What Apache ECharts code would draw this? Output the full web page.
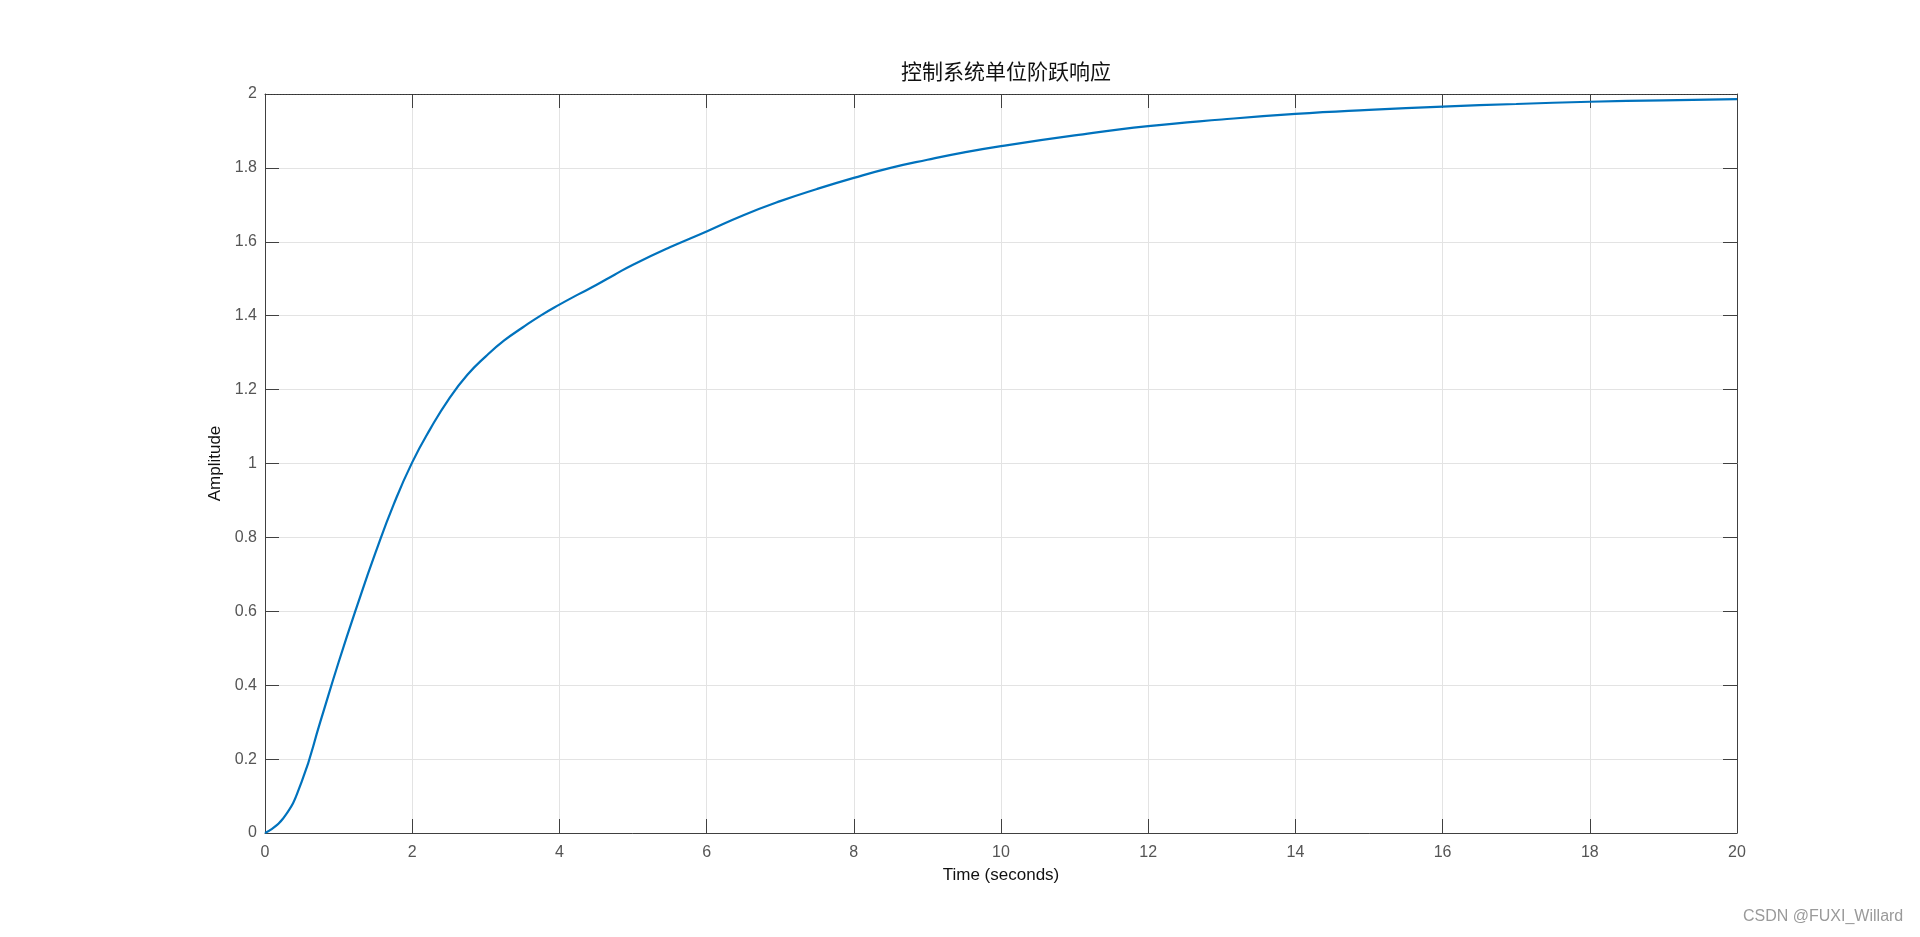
<!DOCTYPE html>
<html>
<head>
<meta charset="utf-8">
<title>控制系统单位阶跃响应</title>
<script src="https://cdn.jsdelivr.net/npm/echarts@6/dist/echarts.min.js"></script>
<style>
html,body{margin:0;padding:0;background:#fff;}
#chart{width:1920px;height:937px;}
</style>
</head>
<body>
<div id="chart"></div>
<script>
// Data
var titleText = '控制系统单位阶跃响应';
var xAxisName = 'Time (seconds)';
var yAxisName = 'Amplitude';
var watermark = 'CSDN @FUXI_Willard';
var timeValues = [0, 0.25, 0.5, 0.75, 1.0, 1.25, 1.5, 1.75, 2.0, 2.25, 2.5, 2.75, 3.0, 3.25, 3.5, 3.75, 4.0, 4.25, 4.5, 4.75, 5.0,
                  5.5, 6.0, 6.5, 7.0, 7.5, 8.0, 8.5, 9.0, 9.5, 10, 11, 12, 13, 14, 15, 16, 17, 18, 19, 20];
var amplitudeValues = [0, 0.04, 0.14, 0.3, 0.462, 0.614, 0.758, 0.89, 1.003, 1.095, 1.175, 1.24, 1.29, 1.333, 1.368, 1.401, 1.43, 1.457, 1.483, 1.511, 1.538,
                       1.585, 1.628, 1.672, 1.71, 1.743, 1.773, 1.8, 1.822, 1.842, 1.859, 1.888, 1.913, 1.931, 1.946, 1.957, 1.966, 1.973, 1.979, 1.983, 1.986];
var steadyState = 2;
var xMin = 0, xMax = 20, xStep = 2;
var yMin = 0, yMax = 2, yStep = 0.2;

var seriesData = timeValues.map(function (t, i) { return [t, amplitudeValues[i]]; });

var axisColor = '#404040';
var gridColor = '#e3e3e3';
var font = '"Liberation Sans", Arial, sans-serif';

var chart = echarts.init(document.getElementById('chart'));
var option = {
  backgroundColor: '#ffffff',
  animation: false,
  title: {
    text: titleText,
    left: 1001, top: 56, textAlign: 'center',
    textStyle: { fontFamily: '"Noto Sans CJK SC", sans-serif', fontSize: 21, fontWeight: 'normal', color: '#111' }
  },
  grid: { left: 265, top: 94, right: 183, bottom: 104, containLabel: false },
  xAxis: [{
    type: 'value', min: xMin, max: xMax, interval: xStep,
    name: xAxisName, nameLocation: 'middle', nameGap: 34,
    nameTextStyle: { fontFamily: font, fontSize: 17, color: '#111' },
    axisLine: { show: true, onZero: false, lineStyle: { color: axisColor, width: 1 } },
    axisTick: { show: true, inside: true, length: 14, lineStyle: { color: axisColor } },
    axisLabel: { margin: 12, fontFamily: font, fontSize: 16, color: '#555' },
    splitLine: { show: true, lineStyle: { color: gridColor, width: 1 } }
  }, {
    type: 'value', min: xMin, max: xMax, interval: xStep, position: 'top',
    axisLine: { show: true, onZero: false, lineStyle: { color: axisColor, width: 1 } },
    axisTick: { show: true, inside: true, length: 14, lineStyle: { color: axisColor } },
    axisLabel: { show: false }, splitLine: { show: false }
  }],
  yAxis: [{
    type: 'value', min: yMin, max: yMax, interval: yStep,
    name: yAxisName, nameLocation: 'middle', nameGap: 27, nameRotate: 90,
    nameTextStyle: { fontFamily: font, fontSize: 17, color: '#111' },
    axisLine: { show: true, onZero: false, lineStyle: { color: axisColor, width: 1 } },
    axisTick: { show: true, inside: true, length: 14, lineStyle: { color: axisColor } },
    axisLabel: { margin: 8, fontFamily: font, fontSize: 16, color: '#555',
      formatter: function (v) { return String(parseFloat(v.toFixed(1))); } },
    splitLine: { show: true, lineStyle: { color: gridColor, width: 1 } }
  }, {
    type: 'value', min: yMin, max: yMax, interval: yStep, position: 'right',
    axisLine: { show: true, onZero: false, lineStyle: { color: axisColor, width: 1 } },
    axisTick: { show: true, inside: true, length: 14, lineStyle: { color: axisColor } },
    axisLabel: { show: false }, splitLine: { show: false }
  }],
  series: [{
    type: 'line',
    data: seriesData,
    showSymbol: false,
    smooth: 0.5,
    lineStyle: { color: '#0072BD', width: 2.2 },
    markLine: {
      silent: true, symbol: 'none', label: { show: false },
      lineStyle: { color: '#333', type: [1, 2], width: 1 },
      data: [{ yAxis: steadyState }]
    }
  }],
  graphic: [{
    type: 'text', left: 1743, top: 909,
    style: { text: watermark, font: '16px ' + font, fill: '#9a9a9a' }
  }]
};
chart.setOption(option);
</script>
</body>
</html>
